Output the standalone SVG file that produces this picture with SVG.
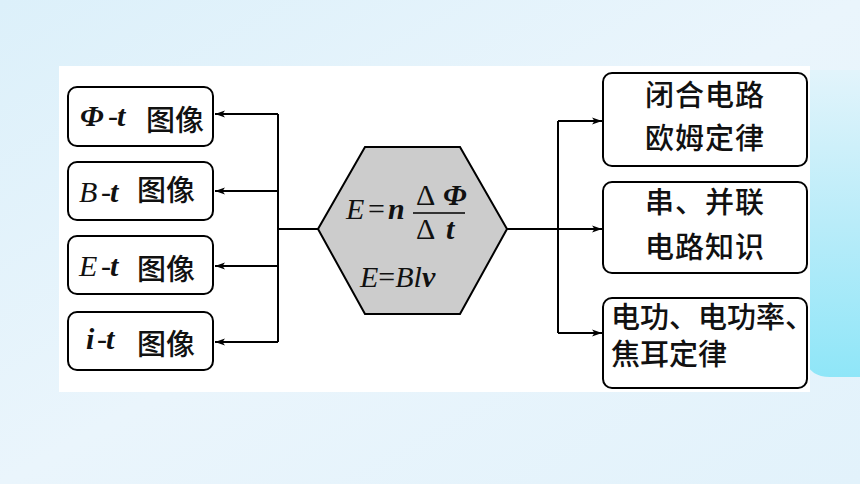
<svg xmlns="http://www.w3.org/2000/svg" width="860" height="484" viewBox="0 0 860 484">
<defs>
<linearGradient id="bg" x1="0" y1="0" x2="1" y2="1">
<stop offset="0" stop-color="#dcf0fa"/>
<stop offset="0.5" stop-color="#eaf5fc"/>
<stop offset="1" stop-color="#e2f2fb"/>
</linearGradient>
<linearGradient id="acc" x1="0" y1="0" x2="0" y2="1">
<stop offset="0" stop-color="#e2f4fb"/>
<stop offset="0.5" stop-color="#b9ecf9"/>
<stop offset="1" stop-color="#8fe6f8"/>
</linearGradient>
<marker id="ah" viewBox="0 0 10 10" refX="10" refY="5" markerWidth="10" markerHeight="10" markerUnits="userSpaceOnUse" orient="auto">
<path d="M0,1.5 L10,5 L0,8.5 L2.5,5 Z" fill="#000"/>
</marker>
<style>
.box{fill:#fff;stroke:#000;stroke-width:2}
.ln{fill:none;stroke:#000;stroke-width:2}
.cjk{font-family:"Noto Sans CJK SC","Noto Sans CJK JP",sans-serif;font-size:29px;font-weight:500;fill:#111}
.m{font-family:"Liberation Serif",serif;font-style:italic;font-size:30px;fill:#111}
.b{font-weight:bold}
.n{font-style:normal}
</style>
</defs>
<rect width="860" height="484" fill="url(#bg)"/>
<path d="M800,70 H860 V377 H830 Q810,377 805,360 Z" fill="url(#acc)"/>
<rect x="59" y="66" width="751" height="326" fill="#fff"/>

<g id="connectors">
<path class="ln" d="M320,229 H278 M278,114 V342"/>
<path class="ln" d="M278,114 H215" marker-end="url(#ah)"/>
<path class="ln" d="M278,191 H215" marker-end="url(#ah)"/>
<path class="ln" d="M278,266 H215" marker-end="url(#ah)"/>
<path class="ln" d="M278,342 H215" marker-end="url(#ah)"/>
<path class="ln" d="M507,229 H558 M558,121 V333"/>
<path class="ln" d="M558,121 H602" marker-end="url(#ah)"/>
<path class="ln" d="M558,229 H602" marker-end="url(#ah)"/>
<path class="ln" d="M558,333 H602" marker-end="url(#ah)"/>
</g>

<g id="n-phi-t">
<rect class="box" x="68" y="87" width="145" height="59" rx="9"/>
<text class="m" y="126"><tspan x="80" class="b">Φ</tspan><tspan x="108" class="n">-</tspan><tspan x="117" class="b">t</tspan></text>
<text class="cjk" x="146" y="131">图像</text>
</g>
<g id="n-b-t">
<rect class="box" x="68" y="162" width="145" height="58" rx="9"/>
<text class="m" y="202"><tspan x="79">B</tspan><tspan x="101" class="n">-</tspan><tspan x="110" class="b">t</tspan></text>
<text class="cjk" x="137" y="201">图像</text>
</g>
<g id="n-e-t">
<rect class="box" x="68" y="236" width="145" height="58" rx="9"/>
<text class="m" y="276"><tspan x="79">E</tspan><tspan x="101" class="n">-</tspan><tspan x="110" class="b">t</tspan></text>
<text class="cjk" x="137" y="280">图像</text>
</g>
<g id="n-i-t">
<rect class="box" x="68" y="312" width="145" height="58" rx="9"/>
<text class="m" y="349"><tspan x="86" class="b">i</tspan><tspan x="97" class="n">-</tspan><tspan x="106" class="b">t</tspan></text>
<text class="cjk" x="137" y="355">图像</text>
</g>

<g id="n-center">
<polygon points="318,229 365,147 460,147 507,229 460,314 365,314" fill="#cccccc" stroke="#000" stroke-width="2"/>
<text class="m" y="219"><tspan x="346">E</tspan><tspan x="368" class="n">=</tspan><tspan x="388" class="b">n</tspan></text>
<text class="m" y="205"><tspan x="416" class="n">Δ</tspan><tspan x="443" class="b">Φ</tspan></text>
<line x1="413" y1="213" x2="465" y2="213" stroke="#000" stroke-width="1.5"/>
<text class="m" y="239"><tspan x="416" class="n">Δ</tspan><tspan x="446" class="b">t</tspan></text>
<text class="m" x="360" y="287">E<tspan class="n">=</tspan>Bl<tspan class="b">v</tspan></text>
</g>

<g id="n-ohm">
<rect class="box" x="603" y="73" width="204" height="93" rx="9"/>
<text class="cjk" x="705" y="106" text-anchor="middle" letter-spacing="1">闭合电路</text>
<text class="cjk" x="705" y="149" text-anchor="middle" letter-spacing="1">欧姆定律</text>
</g>
<g id="n-series">
<rect class="box" x="603" y="182" width="204" height="91" rx="9"/>
<text class="cjk" x="705" y="213" text-anchor="middle" letter-spacing="1">串、并联</text>
<text class="cjk" x="705" y="258" text-anchor="middle" letter-spacing="1">电路知识</text>
</g>
<g id="n-power">
<rect class="box" x="603" y="298" width="204" height="90" rx="9"/>
<text class="cjk" x="611" y="328" font-size="27.5">电功、电功率、</text>
<text class="cjk" x="611" y="365" font-size="27.5">焦耳定律</text>
</g>
</svg>
